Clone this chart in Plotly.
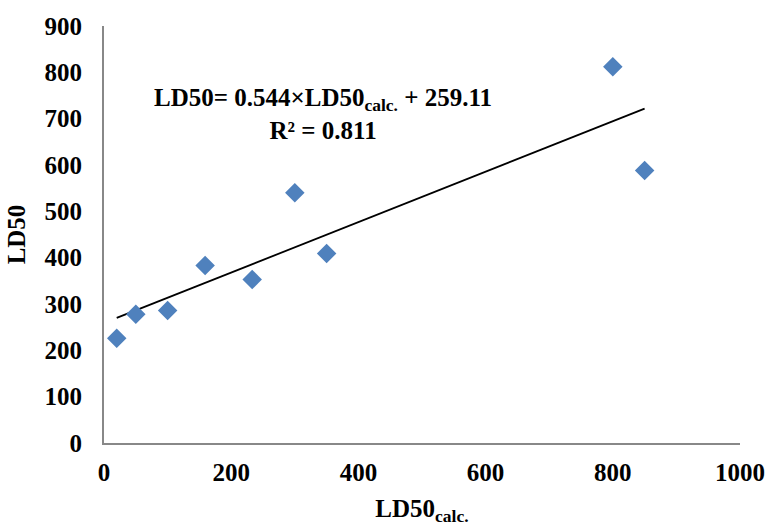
import plotly.graph_objects as go

ld50_calc = [20, 50, 100, 159, 233, 300, 350, 800, 850]
ld50 = [226, 278, 286, 383, 353, 540, 409, 812, 588]
slope = 0.544
intercept = 259.11
r2 = 0.811

x_ticks = [0, 200, 400, 600, 800, 1000]
y_ticks = [0, 100, 200, 300, 400, 500, 600, 700, 800, 900]

FONT = "Liberation Serif"
FS = 25

xmin, xmax = min(ld50_calc), max(ld50_calc)
fit_x = [xmin, xmax]
fit_y = [slope * v + intercept for v in fit_x]

fig = go.Figure()
fig.add_trace(go.Scatter(x=fit_x, y=fit_y, mode="lines",
                         line=dict(color="black", width=1.8), showlegend=False))
fig.add_trace(go.Scatter(x=ld50_calc, y=ld50, mode="markers",
                         marker=dict(symbol="diamond", size=15, color="#4F81BD"),
                         showlegend=False))

fig.add_annotation(
    x=0.345, y=0.865, xref="paper", yref="paper",
    text=f"<b>LD50= {slope}×LD50<sub>calc.</sub> + {intercept}<br>R² = {r2}</b>",
    showarrow=False, align="center",
    font=dict(family=FONT, size=FS, color="black"),
)

fig.update_layout(
    width=768, height=527,
    margin=dict(l=104, r=28, t=26, b=84, autoexpand=False),
    paper_bgcolor="white", plot_bgcolor="white",
    font=dict(family=FONT, size=FS, color="black"),
    xaxis=dict(
        range=[0, 1000], tickvals=x_ticks, ticktext=[f"<b>{v}</b>" for v in x_ticks],
        showgrid=False, zeroline=False, showline=True, linecolor="#888888", linewidth=2,
        ticks="", ticklabelstandoff=6, automargin=False,
        title=dict(text="<b>LD50<sub>calc.</sub></b>", font=dict(family=FONT, size=FS), standoff=14),
    ),
    yaxis=dict(
        range=[0, 900], tickvals=y_ticks, ticktext=[f"<b>{v}</b>" for v in y_ticks],
        showgrid=False, zeroline=False, showline=True, linecolor="#888888", linewidth=2,
        ticks="", ticklabelstandoff=15, automargin=False,
        title=dict(text="<b>LD50</b>", font=dict(family=FONT, size=FS), standoff=12),
    ),
)

fig.write_html("out.html")
